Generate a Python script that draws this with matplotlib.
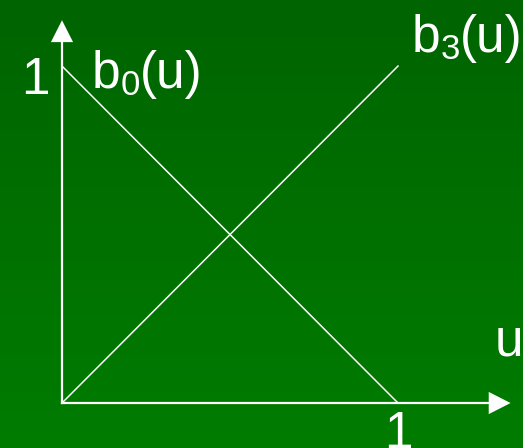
import numpy as np
import matplotlib.pyplot as plt

plt.rcParams['font.family'] = ['Liberation Sans', 'DejaVu Sans']

# basis functions: b0 falls, b3 rises on [0, 1]
u = [0.0, 1.0]
b0 = [1.0, 0.0]
b3 = [0.0, 1.0]

fig = plt.figure(figsize=(5.23, 4.48), dpi=100)
ax = fig.add_axes([0, 0, 1, 1])
ax.set_xlim(-0.1845, 1.372)
ax.set_ylim(-0.1335, 1.196)
ax.axis('off')

# green vertical gradient background
grad = np.linspace(0, 1, 256).reshape(-1, 1)
top = np.array([0x00, 0x64, 0x00]) / 255
bot = np.array([0x00, 0x7c, 0x00]) / 255
img = top + (bot - top) * grad[:, :, None]
ax.imshow(img, extent=[-0.1845, 1.372, -0.1335, 1.196], aspect='auto', zorder=0)

# axes with arrows
ax.plot([0, 1.27], [0, 0], color='white', lw=1.6, zorder=2)
ax.plot([0, 0], [0, 1.08], color='white', lw=1.6, zorder=2)
ax.arrow(1.27, 0, 0.065, 0, head_width=0.066, head_length=0.065,
         length_includes_head=True, color='white', lw=0, zorder=3)
ax.arrow(0, 1.07, 0, 0.066, head_width=0.066, head_length=0.065,
         length_includes_head=True, color='white', lw=0, zorder=3)

ax.plot(u, b0, color='white', lw=1.1, zorder=2)
ax.plot(u, b3, color='white', lw=1.1, zorder=2)

fs = 37


def label(x, y, sub):
    # b, lowered subscript digit, then (u)
    ax.annotate('b', (x, y), color='white', fontsize=fs, va='baseline')
    ax.annotate(sub, (x, y), xytext=(29, -7), textcoords='offset pixels',
                color='white', fontsize=25, va='baseline')
    ax.annotate('(u)', (x, y), xytext=(48, 0), textcoords='offset pixels',
                color='white', fontsize=fs, va='baseline')


ax.text(-0.08, 0.958, '1', color='white', fontsize=fs, ha='center', va='center')
ax.text(1.0, -0.022, '1', color='white', fontsize=fs, ha='center', va='top')
label(0.088, 0.935, '0')
label(1.041, 1.042, '3')
ax.text(1.289, 0.142, 'u', color='white', fontsize=fs, va='baseline')

fig.savefig('out.png', dpi=100)
